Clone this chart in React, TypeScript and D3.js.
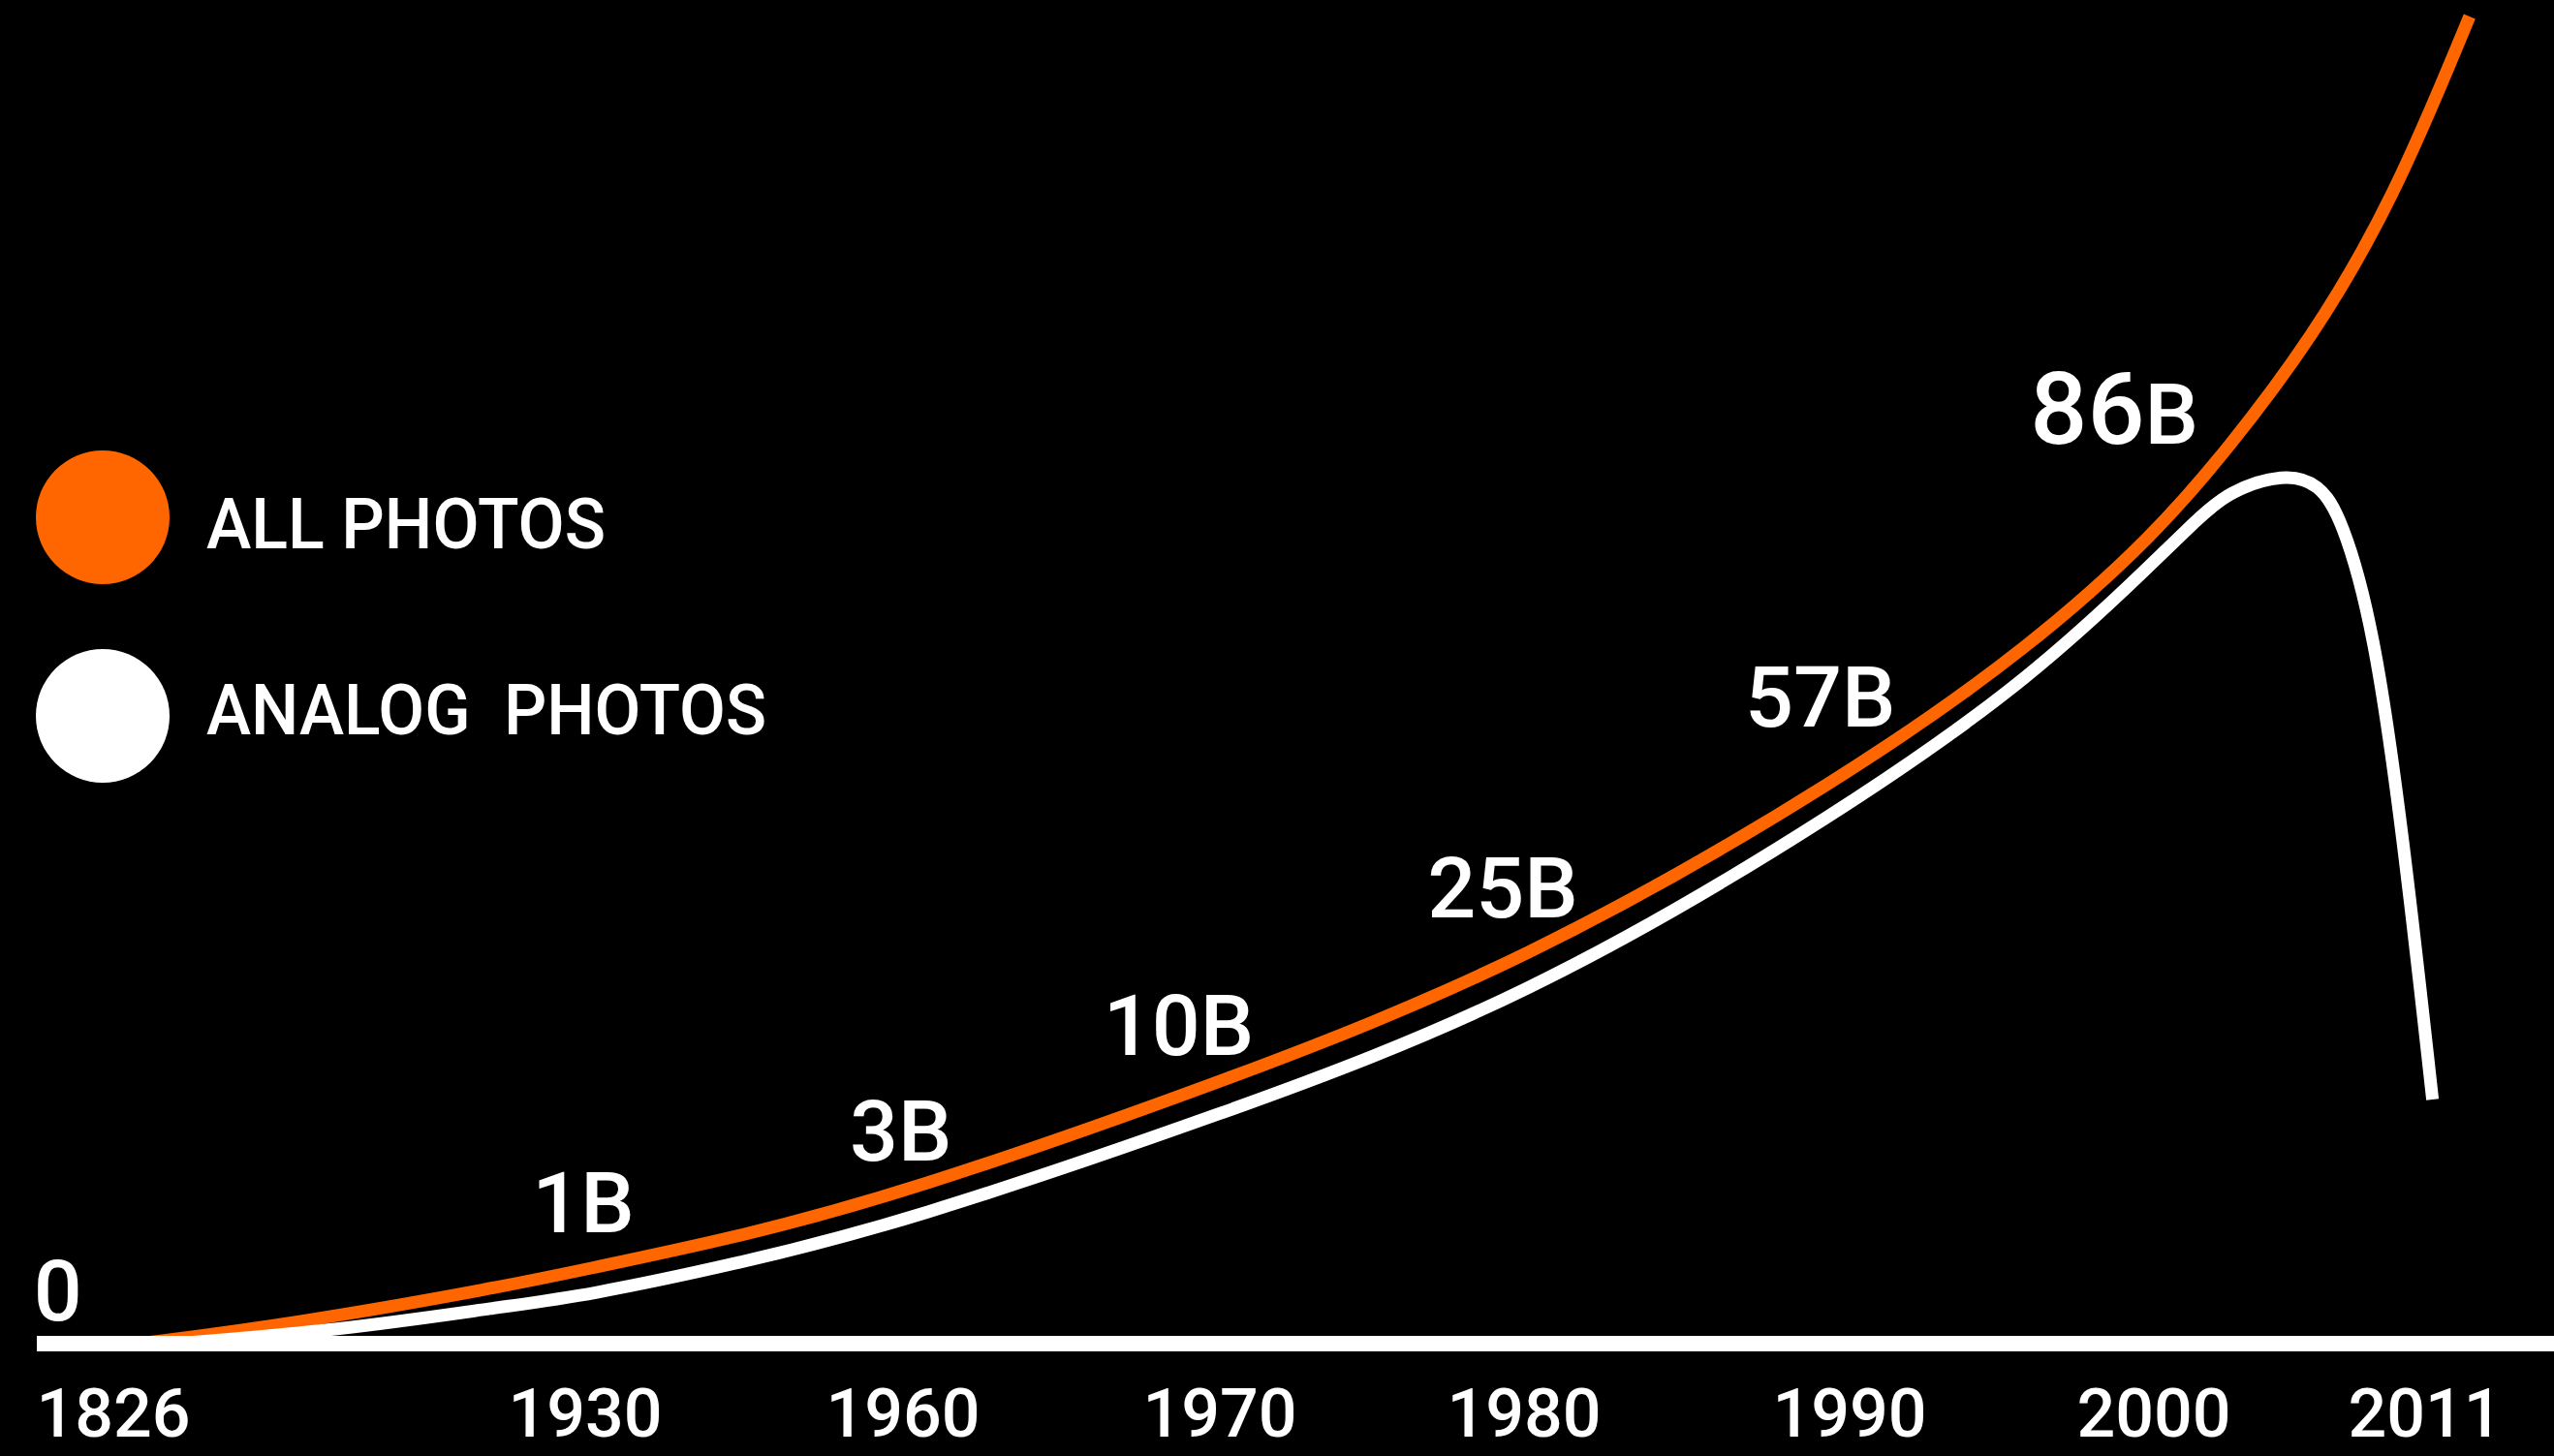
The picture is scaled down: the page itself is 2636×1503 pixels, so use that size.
import React from 'react';
import * as d3 from 'd3';

// ---------- data ----------
const tickYears = [1826, 1930, 1960, 1970, 1980, 1990, 2000, 2011];
const tickLabels = ['1826', '1930', '1960', '1970', '1980', '1990', '2000', '2011'];

// ALL PHOTOS curve (relative height, 0–100 of plot height)
const allYears = [1831.6, 1865.1, 1912.1, 1930, 1944.3, 1960, 1970, 1980, 1990, 1996.1, 2000, 2003.0, 2006.4, 2009.7, 2012.8];
const allValues = [0, 1.46, 4.3, 5.6, 8.0, 11.3, 19.6, 28.6, 42.8, 52.8, 60.9, 67.4, 75.7, 86.1, 100];

// ANALOG PHOTOS curve
const analogYears = [1839.5, 1875.8, 1912.1, 1930, 1944.3, 1960, 1970, 1980, 1990, 1996.1, 2000, 2001.7, 2003.0, 2005.3, 2006.7, 2007.6, 2008.9, 2010.1, 2011.3];
const analogValues = [0, 1.0, 2.8, 3.6, 6.0, 9.1, 17.2, 25.8, 40.4, 50.4, 58.9, 62.0, 64.2, 65.6, 64.8, 62.3, 54.2, 38.5, 18.4];

// value annotations
const labelTexts = ['0', '1B', '3B', '10B', '25B', '57B', '86B'];
const labelYears = [1813.8, 1929.6, 1959.8, 1968.7, 1979.3, 1989.1, 1998.7];
const labelLevels = [1.75, 8.4, 13.8, 21.75, 32.1, 46.5, 67.8];

const seriesNames = ['ALL PHOTOS', 'ANALOG  PHOTOS'];
const seriesColors = ['#ff6600', '#ffffff'];

// ---------- layout ----------
const W = 2636;
const H = 1503;
const tickX = [117, 604, 932, 1259, 1573, 1909, 2223, 2503];
const baseY = 1387;
const topY = 17;
const FONT = 'Roboto, "DejaVu Sans", sans-serif';

export default function App() {
  const x = d3.scaleLinear().domain(tickYears).range(tickX);
  const y = d3.scaleLinear().domain([0, 100]).range([baseY, topY]);

  const line = d3
    .line<[number, number]>()
    .x((d) => x(d[0]))
    .y((d) => y(d[1]))
    .curve(d3.curveBasis);

  const allPath = line(allYears.map((yr, i) => [yr, allValues[i]]) as [number, number][]) || '';
  const analogPath = line(analogYears.map((yr, i) => [yr, analogValues[i]]) as [number, number][]) || '';

  return (
    <svg
      width={W}
      height={H}
      style={{ position: 'absolute', left: 0, top: 0, display: 'block', background: '#000' }}
      fontFamily={FONT}
    >
      <rect x={0} y={0} width={W} height={H} fill="#000" />

      {/* curves */}
      <path d={allPath} fill="none" stroke={seriesColors[0]} strokeWidth={13} />
      <path d={analogPath} fill="none" stroke={seriesColors[1]} strokeWidth={13} />

      {/* axis line */}
      <line x1={38} x2={W} y1={baseY} y2={baseY} stroke="#fff" strokeWidth={16} />

      {/* year tick labels */}
      {tickYears.map((yr, i) => (
        <text
          key={yr}
          x={x(yr)}
          y={1483}
          fill="#fff"
          fontSize={70}
          fontWeight={500}
          textAnchor="middle"
        >
          {tickLabels[i]}
        </text>
      ))}

      {/* value labels */}
      {labelTexts.map((t, i) => {
        const m = t.match(/^(\d+)(B?)$/);
        const digits = m ? m[1] : t;
        const suffix = m ? m[2] : '';
        const big = t === '86B';
        return (
          <text
            key={t}
            x={x(labelYears[i])}
            y={y(labelLevels[i])}
            fill="#fff"
            fontSize={88}
            fontWeight={500}
            textAnchor="middle"
          >
            <tspan fontSize={big ? 104 : 88}>{digits}</tspan>
            {suffix && <tspan>{suffix}</tspan>}
          </text>
        );
      })}

      {/* legend */}
      {seriesNames.map((n, i) => {
        const cy = i === 0 ? 534 : 739;
        return (
          <g key={n}>
            <circle cx={106} cy={cy} r={69} fill={seriesColors[i]} />
            <text
              x={213}
              y={cy + (i === 0 ? 32 : 19)}
              fill="#fff"
              fontSize={72}
              fontWeight={500}
              style={{ whiteSpace: 'pre' }}
              textLength={i === 0 ? 412 : 578}
              lengthAdjust="spacingAndGlyphs"
            >
              {n}
            </text>
          </g>
        );
      })}
    </svg>
  );
}
